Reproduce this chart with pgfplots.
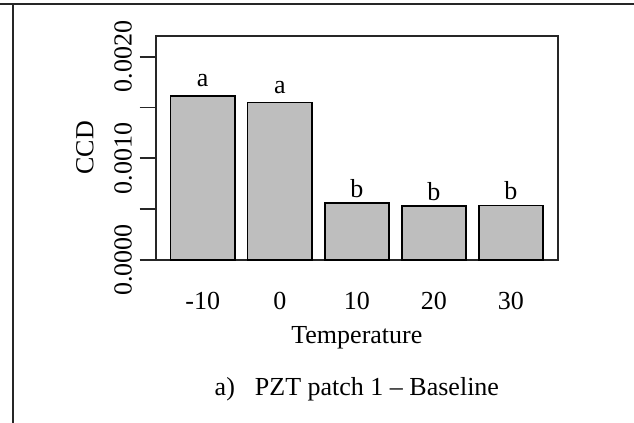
\documentclass[border=0pt]{standalone}
\usepackage{fontspec}
\setmainfont{Liberation Serif}
\usepackage{pgfplots}
\pgfplotsset{compat=1.18}
\definecolor{barfill}{HTML}{BEBEBE}
\definecolor{ink}{HTML}{262626}
\begin{document}
\fontsize{26bp}{31bp}\selectfont
\begin{tikzpicture}
\useasboundingbox (0bp,0bp) rectangle (634bp,-423bp);
% page frame rules
\draw[ink, line width=2.5bp] (0bp,-4bp) -- (61bp,-4bp);
\draw[ink, line width=1.3bp] (61bp,-4bp) -- (591bp,-4bp);
\draw[ink, line width=2.5bp] (591bp,-4bp) -- (634bp,-4bp);
\draw[ink, line width=2bp] (13bp,-4bp) -- (13bp,-423bp);
\begin{axis}[
  at={(155.7bp,-260bp)}, anchor=south west,
  scale only axis, width=402.3bp, height=224.3bp,
  xmin=-0.032, xmax=6.232, ymin=0, ymax=0.002207,
  axis line style={ink, line width=1.8bp},
  xtick={0.7,1.9,3.1,4.3,5.5},
  xticklabels={-10,0,10,20,30},
  xtick style={draw=none},
  ytick={0,0.0005,0.001,0.0015,0.002},
  yticklabels={0.0000,{},0.0010,{},0.0020},
  ytick pos=left,
  scaled y ticks=false,
  tick align=outside,
  ytick style={ink, line width=1.8bp},
  major tick length=16bp,
  yticklabel style={rotate=90, anchor=base, inner sep=0pt, yshift=8bp},
  xticklabel style={anchor=base, inner sep=0pt, yshift=-33.3bp},
  xlabel={Temperature},
  xlabel style={at={([yshift=-83.3bp]axis description cs:0.5,0)}, anchor=base, inner sep=0pt},
  ylabel={CCD},
  ylabel style={at={([xshift=-62.4bp]axis description cs:0,0.5)}, anchor=base, inner sep=0pt},
  clip=false,
]
% mean CCD per temperature
\addplot[ybar, bar width=1, fill=barfill, draw=black, line width=1.6bp]
  coordinates {(0.7,0.001613) (1.9,0.001551) (3.1,0.000558) (4.3,0.000531) (5.5,0.000538)};
% grouping letters
\node[anchor=base, inner sep=0pt, yshift=9.3bp] at (axis cs:0.7,0.001613) {a};
\node[anchor=base, inner sep=0pt, yshift=9bp] at (axis cs:1.9,0.001551) {a};
\node[anchor=base, inner sep=0pt, yshift=6bp] at (axis cs:3.1,0.000558) {b};
\node[anchor=base, inner sep=0pt, yshift=6bp] at (axis cs:4.3,0.000531) {b};
\node[anchor=base, inner sep=0pt, yshift=6bp] at (axis cs:5.5,0.000538) {b};
\node[anchor=base, inner sep=0pt] at ([yshift=-135bp]axis description cs:0.5,0)
  {a)\hspace{0.77em}PZT patch 1 – Baseline};
\end{axis}
\end{tikzpicture}
\end{document}
